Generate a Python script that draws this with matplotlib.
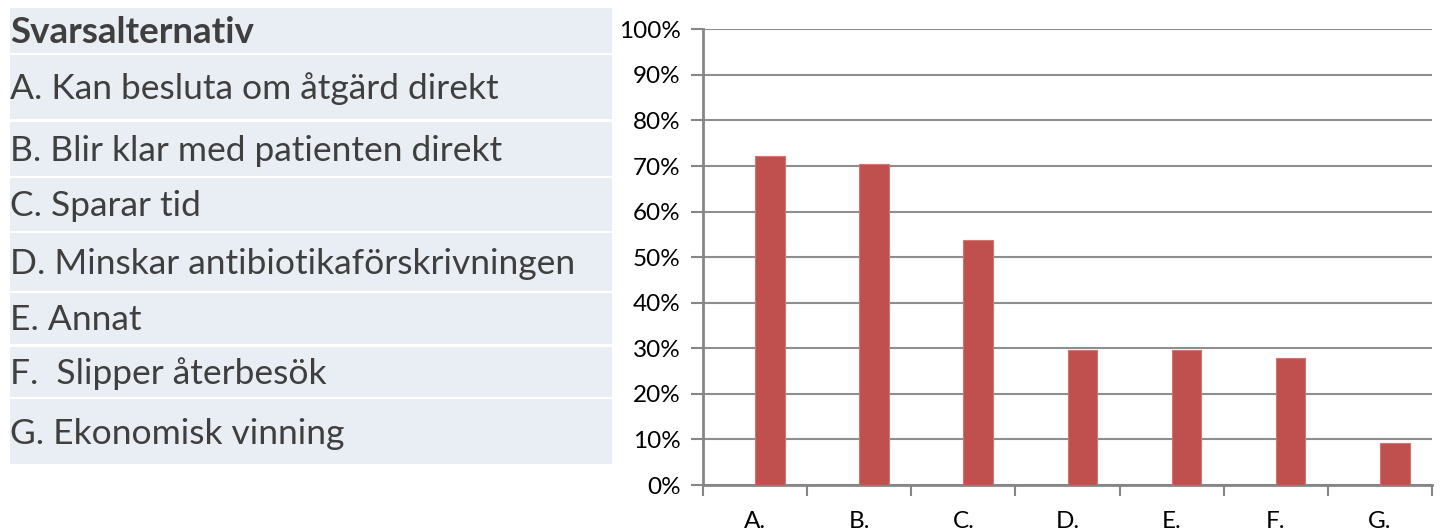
import matplotlib
matplotlib.use("Agg")
import matplotlib.pyplot as plt
from matplotlib.patches import Rectangle
from matplotlib.ticker import PercentFormatter
import numpy as np

# ---- data ----
categories = ["A.", "B.", "C.", "D.", "E.", "F.", "G."]
values = [72.2, 70.4, 53.7, 29.6, 29.6, 27.8, 9.3]
y_ticks = [0, 10, 20, 30, 40, 50, 60, 70, 80, 90, 100]
table_header = "Svarsalternativ"
table_rows = [
    "A. Kan besluta om åtgärd direkt",
    "B. Blir klar med patienten direkt",
    "C. Sparar tid",
    "D. Minskar antibiotikaförskrivningen",
    "E. Annat",
    "F.  Slipper återbesök",
    "G. Ekonomisk vinning",
]

plt.rcParams['font.family'] = ['Lato', 'DejaVu Sans']

W, H = 1440, 532
fig = plt.figure(figsize=(W / 100, H / 100), dpi=100)
fig.patch.set_facecolor("white")

# ---- table (pixel coordinates) ----
axt = fig.add_axes([0, 0, 1, 1])
axt.set_xlim(0, W)
axt.set_ylim(H, 0)
axt.axis("off")
row_bounds = [(8, 52.5), (55, 119), (122, 176), (178, 231), (233, 291),
              (293, 344), (347, 397), (399, 464)]
cell_color = "#E9EDF4"
text_color = "#3F3F3F"
labels = [table_header] + table_rows
for i, ((y0, y1), lab) in enumerate(zip(row_bounds, labels)):
    axt.add_patch(Rectangle((10, y0), 602, y1 - y0, facecolor=cell_color,
                            edgecolor="none"))
    axt.text(10, (y0 + y1) / 2 + 2, lab, ha="left", va="center",
             fontsize=25.5 if i else 26.5, color=text_color,
             fontweight="bold" if i == 0 else "normal")

# ---- bar chart ----
ax = fig.add_axes([703 / W, (H - 485) / H, (1432 - 703) / W, (485 - 29.3) / H])
x = np.arange(len(categories))
ax.bar(x, values, width=0.285, align="edge", color="#C0504D",
       edgecolor="#D07572", linewidth=0.8, zorder=3)
ax.set_xlim(-0.5, len(categories) - 0.5)
ax.set_ylim(0, 100)
ax.set_yticks(y_ticks)
ax.yaxis.set_major_formatter(PercentFormatter(decimals=0))
ax.yaxis.grid(True, color="#8E8E8E", linewidth=1.5, zorder=0)
ax.set_axisbelow(True)
ax.set_xticks(x)
ax.set_xticklabels(categories)
ax.set_xticks(np.arange(-0.5, len(categories), 1.0), minor=True)
ax.tick_params(axis="x", which="major", length=0, pad=19, labelsize=17.5,
               labelcolor="black")
ax.tick_params(axis="x", which="minor", length=8, width=1.5, color="#868686",
               direction="out")
ax.tick_params(axis="y", length=9, width=1.5, color="#868686", labelsize=17.5,
               pad=7, labelcolor="black")
for s in ["top", "right"]:
    ax.spines[s].set_visible(False)
for s in ["left", "bottom"]:
    ax.spines[s].set_color("#868686")
    ax.spines[s].set_linewidth(2)

fig.savefig("out.png", dpi=100, facecolor="white")
